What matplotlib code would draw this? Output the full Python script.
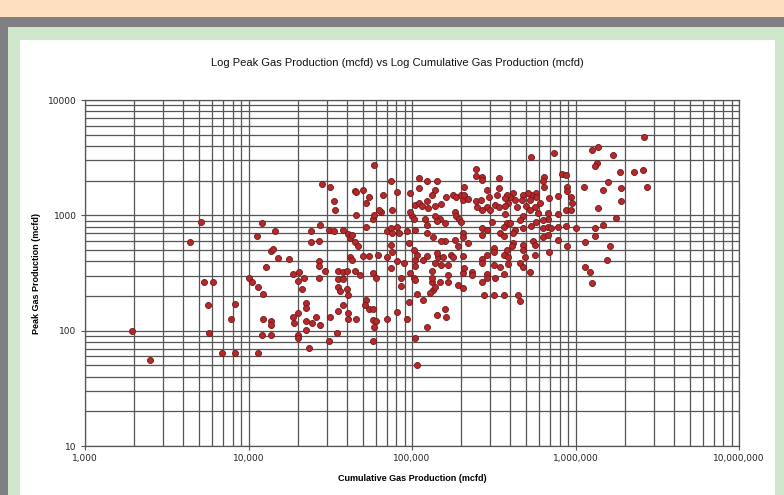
import matplotlib
matplotlib.use("Agg")
import matplotlib.pyplot as plt
import numpy as np
from matplotlib.patches import Rectangle
from matplotlib.ticker import FixedLocator, FuncFormatter, NullFormatter

# log10 of cumulative gas production (mcfd) for each well
log_cum = [
    3.29, 3.71, 3.64, 4.08, 4.16, 4.05, 4.38, 4.38, 4.43, 4.44, 4.49, 4.52, 4.45, 4.50,
    4.52, 4.53, 4.65, 4.66, 4.70, 4.74, 4.72, 4.66, 4.58, 4.61, 4.62, 4.65, 4.67, 4.63,
    4.72, 4.76, 4.77, 4.14, 4.15, 4.18, 4.25, 4.11, 4.43, 4.43, 4.47, 4.31, 4.27, 4.34,
    4.30, 4.33, 4.43, 4.55, 4.58, 4.60, 4.55, 4.58, 4.65, 4.68, 4.62, 4.63, 4.70, 4.74,
    4.79, 4.76, 4.78, 4.55, 4.56, 4.60, 4.61, 4.72, 4.74, 4.76, 4.58, 4.55, 4.61, 4.66,
    4.61, 4.50, 4.35, 4.35, 4.30, 4.27, 4.28, 4.35, 4.39, 4.41, 4.44, 4.35, 4.30, 4.30,
    4.49, 4.54, 4.37, 4.09, 4.14, 4.14, 4.14, 4.08, 4.06, 3.92, 3.84, 3.92, 3.89, 3.75,
    3.76, 3.73, 3.78, 3.40, 4.00, 4.02, 4.06, 4.09, 4.76, 4.77, 4.76, 4.71, 4.78,
    4.77, 4.87, 4.91, 4.82, 4.81, 4.88, 4.99, 5.04, 5.04, 5.09, 5.15, 5.14, 5.02, 5.04,
    5.06, 5.09, 5.10, 5.12, 5.14, 5.18, 5.21, 5.25, 5.27, 5.30, 5.31, 5.32, 5.34, 5.32,
    5.39, 5.39, 5.39, 5.40, 5.00, 5.01, 4.99, 5.08, 5.09, 5.14, 5.17, 5.15, 5.20, 5.26,
    5.27, 5.29, 5.30, 4.85, 4.87, 4.88, 4.91, 4.92, 4.97, 5.02, 5.09, 5.13, 5.20, 5.26,
    5.31, 5.31, 4.87, 4.98, 5.18, 5.28, 5.34, 4.80,
    6.42, 6.14, 6.10, 6.23, 6.13, 6.12, 5.87, 5.73, 6.27, 6.36, 6.41, 6.44, 6.20, 6.17,
    6.28, 6.28, 6.05, 6.14, 6.25, 6.17, 6.12, 6.12, 6.06, 6.21, 5.92, 5.94, 5.95, 5.95,
    5.97, 5.98, 5.94, 5.97, 6.00, 5.94, 5.89, 5.89, 5.89, 5.84, 5.81, 5.81, 5.80, 5.78,
    5.76, 5.76, 5.73, 5.71, 5.72, 5.68, 5.67, 5.70, 5.72, 5.75, 5.77, 5.83, 5.80, 5.76,
    5.73, 5.80, 5.83, 5.80, 5.74, 5.75, 5.68, 5.68, 5.68, 5.64, 5.63, 5.62, 5.60, 5.58,
    5.57, 5.59, 5.57, 5.57, 5.58, 5.56, 5.54, 5.56, 5.63, 5.62, 5.53, 5.53, 5.52, 5.51,
    5.53, 5.46, 5.47, 5.46, 5.48, 5.43, 5.43, 5.42, 5.43, 5.43, 5.43, 5.46, 5.49, 5.50,
    5.95, 5.89, 5.83, 5.62, 5.66, 5.83, 5.85, 5.60, 5.61,
    4.85, 4.88, 4.91, 4.95, 4.87, 4.93, 4.93, 4.99, 5.01, 5.02, 5.02, 5.02, 5.07, 5.09,
    5.12, 5.12, 5.13, 5.14, 5.11, 5.03, 5.07, 4.98, 4.91, 4.97, 4.85, 5.15, 5.20, 5.21,
    5.09, 5.02, 5.03, 5.14, 5.16, 5.19, 5.24, 5.25, 5.31, 5.22, 5.18, 5.17, 5.22, 5.22,
    5.28, 5.31, 5.31, 5.32, 5.37, 5.37, 5.12, 5.15, 5.03, 5.01,
    6.19, 6.06, 6.09, 6.10, 5.84, 5.75, 5.69, 5.66, 5.68, 5.72, 5.65, 5.66, 5.56, 5.50,
    5.44, 5.43, 5.46, 5.46, 5.51, 5.50, 5.54, 5.56, 5.56, 5.59, 5.59, 5.58, 5.43, 5.43,
    5.46, 5.50, 5.68,
]

# log10 of peak gas production (mcfd) for the same wells
log_peak = [
    2.00, 2.94, 2.77, 2.93, 2.86, 2.82, 2.86, 2.77, 2.78, 2.92, 2.87, 2.86, 3.27, 3.25,
    3.12, 3.05, 3.21, 3.20, 3.22, 3.16, 3.11, 3.00, 2.87, 2.84, 2.80, 2.77, 2.73, 2.83,
    2.90, 2.97, 3.00, 2.69, 2.71, 2.63, 2.62, 2.55, 2.60, 2.56, 2.52, 2.51, 2.49, 2.46,
    2.43, 2.36, 2.46, 2.52, 2.51, 2.52, 2.45, 2.45, 2.52, 2.48, 2.64, 2.61, 2.65, 2.65,
    2.66, 2.50, 2.46, 2.38, 2.34, 2.36, 2.31, 2.27, 2.19, 2.19, 2.22, 2.17, 2.15, 2.10,
    2.10, 2.12, 2.24, 2.20, 2.15, 2.12, 2.07, 2.08, 2.07, 2.12, 2.05, 2.01, 1.96, 1.94,
    1.91, 1.98, 1.85, 2.10, 2.08, 2.05, 1.96, 1.96, 1.81, 1.81, 1.81, 2.23, 2.10, 2.22,
    1.98, 2.42, 2.42, 1.75, 2.46, 2.42, 2.38, 2.32, 1.91, 2.03, 2.09, 2.22, 2.08,
    3.44, 3.30, 3.20, 3.18, 3.03, 3.05, 3.19, 3.32, 3.24, 3.30, 3.30, 3.22, 3.09, 3.11,
    3.08, 3.12, 3.06, 3.18, 3.08, 3.10, 3.16, 3.18, 3.16, 3.18, 3.13, 3.18, 3.14, 3.25,
    3.40, 3.34, 3.12, 3.07, 2.99, 2.97, 3.03, 2.97, 2.92, 2.99, 2.97, 2.95, 2.93, 3.03,
    2.99, 2.97, 2.94, 2.86, 2.89, 2.85, 2.90, 2.85, 2.86, 2.87, 2.85, 2.81, 2.78, 2.79,
    2.85, 2.81, 2.74, 2.76, 2.78, 2.73, 2.76, 3.05,
    3.68, 3.59, 3.57, 3.52, 3.45, 3.43, 3.54, 3.51, 3.38, 3.38, 3.39, 3.25, 3.29, 3.22,
    3.24, 3.12, 3.25, 3.06, 2.98, 2.92, 2.89, 2.82, 2.77, 2.73, 3.36, 3.35, 3.25, 3.21,
    3.16, 3.11, 3.05, 3.05, 2.89, 2.91, 2.90, 3.01, 3.17, 3.15, 3.25, 3.33, 3.30, 3.11,
    3.19, 3.16, 3.18, 3.19, 3.13, 3.18, 3.13, 3.08, 3.05, 3.07, 3.02, 2.97, 2.96, 2.94,
    2.91, 2.89, 2.90, 2.81, 2.78, 2.74, 2.74, 2.89, 2.99, 3.07, 3.13, 3.19, 3.16, 3.18,
    3.15, 3.11, 3.08, 3.01, 2.93, 2.90, 2.85, 2.82, 2.87, 2.76, 3.32, 3.24, 3.18, 3.09,
    3.07, 3.22, 3.16, 3.07, 3.05, 3.33, 3.31, 3.13, 3.05, 2.89, 2.83, 2.87, 2.94, 2.72,
    2.73, 2.79, 2.83, 2.85, 2.96, 3.02, 2.89, 2.93, 2.73,
    2.64, 2.68, 2.60, 2.59, 2.54, 2.46, 2.39, 2.50, 2.46, 2.44, 2.56, 2.61, 2.61, 2.65,
    2.52, 2.42, 2.35, 2.38, 2.33, 2.32, 2.27, 2.25, 2.16, 2.10, 2.10, 2.14, 2.19, 2.12,
    2.03, 1.94, 1.70, 2.59, 2.64, 2.64, 2.66, 2.64, 2.65, 2.57, 2.57, 2.42, 2.48, 2.42,
    2.40, 2.37, 2.50, 2.54, 2.51, 2.48, 2.46, 2.67, 2.66, 2.70,
    2.61, 2.55, 2.51, 2.41, 2.68, 2.66, 2.64, 2.59, 2.55, 2.51, 2.31, 2.26, 2.31, 2.31,
    2.31, 2.42, 2.49, 2.46, 2.46, 2.57, 2.55, 2.49, 2.66, 2.64, 2.58, 2.70, 2.62, 2.59,
    2.66, 2.68, 2.70,
]

x_ticks = [1e3, 1e4, 1e5, 1e6, 1e7]
y_ticks = [10, 100, 1000, 10000]

cum = 10 ** np.array(log_cum)
peak = 10 ** np.array(log_peak)

W, H = 784, 495
fig = plt.figure(figsize=(W / 100, H / 100), dpi=100)
fig.patch.set_facecolor("#808084")


def px_rect(x0, y0, x1, y1, color):
    """Rectangle given in pixel coords measured from the top-left corner."""
    fig.add_artist(Rectangle((x0 / W, 1 - y1 / H), (x1 - x0) / W, (y1 - y0) / H,
                             transform=fig.transFigure, facecolor=color,
                             edgecolor="none", zorder=-10))


# page frame: peach header, gray band, green mat, white chart area
px_rect(0, 0, W, 17, "#fde0bf")
px_rect(8, 27, W, H, "#cee6ca")
px_rect(20, 40, 775, H, "#ffffff")

ax = fig.add_axes([85 / W, 1 - 446 / H, (739 - 85) / W, (446 - 100) / H])
ax.set_facecolor("white")
ax.set_xscale("log")
ax.set_yscale("log")
ax.set_xlim(1e3, 1e7)
ax.set_ylim(10, 1e4)

minor = lambda lo, hi: [m * 10 ** e for e in range(lo, hi) for m in range(2, 10)]
ax.xaxis.set_major_locator(FixedLocator(x_ticks))
ax.yaxis.set_major_locator(FixedLocator(y_ticks))
ax.xaxis.set_minor_locator(FixedLocator(minor(3, 7)))
ax.yaxis.set_minor_locator(FixedLocator(minor(1, 4)))
ax.xaxis.set_major_formatter(FuncFormatter(lambda v, p: f"{int(round(v)):,}"))
ax.yaxis.set_major_formatter(FuncFormatter(lambda v, p: f"{int(round(v))}"))
ax.xaxis.set_minor_formatter(NullFormatter())
ax.yaxis.set_minor_formatter(NullFormatter())

ax.grid(True, which="both", color="#555555", linewidth=0.9)
ax.set_axisbelow(True)
for s in ax.spines.values():
    s.set_color("#555555")
    s.set_linewidth(0.9)
ax.tick_params(which="major", length=3, width=0.8, color="#555555",
               labelsize=6.5, labelcolor="#222222", pad=3)
ax.tick_params(which="minor", length=0)

ax.scatter(cum, peak, s=19, facecolor="#b8282a", edgecolor="#6e1a1a",
           linewidth=0.6, zorder=3)

fig.text(397 / W, 1 - 63 / H,
         "Log Peak Gas Production (mcfd) vs Log Cumulative Gas Production (mcfd)",
         ha="center", va="center", fontsize=8, family="Liberation Sans", color="#111111")
ax.set_xlabel("Cumulative Gas Production (mcfd)", fontsize=6.5, fontweight="bold",
              family="Liberation Sans", labelpad=8)
ax.set_ylabel("Peak Gas Production (mcfd)", fontsize=6.5, fontweight="bold",
              family="Liberation Sans", labelpad=5)

fig.savefig("out.png", dpi=100, facecolor=fig.get_facecolor())
